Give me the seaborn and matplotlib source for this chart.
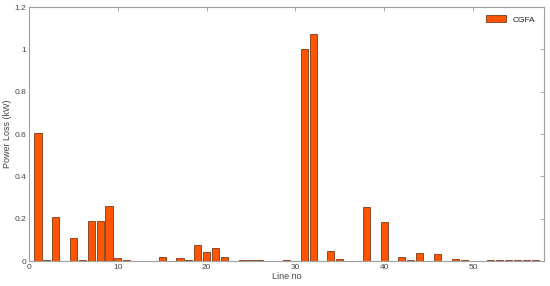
import numpy as np
import pandas as pd
import matplotlib
matplotlib.use("Agg")
import matplotlib.pyplot as plt
import seaborn as sns

# Power loss per line (kW), CGFA
line_no = list(range(1, 58))
power_loss = [0.607, 0.005, 0.208, 0.0, 0.109, 0.004, 0.188, 0.187, 0.260, 0.015,
              0.005, 0.0, 0.002, 0.002, 0.018, 0.0, 0.016, 0.004, 0.077, 0.041,
              0.060, 0.017, 0.002, 0.004, 0.004, 0.005, 0.002, 0.0, 0.005, 0.0,
              1.000, 1.072, 0.0, 0.047, 0.008, 0.0, 0.002, 0.254, 0.0, 0.184,
              0.0, 0.020, 0.005, 0.038, 0.0, 0.033, 0.0, 0.009, 0.004, 0.0,
              0.0, 0.006, 0.004, 0.004, 0.004, 0.005, 0.004]

df = pd.DataFrame({"Line no": line_no, "Power Loss (kW)": power_loss})

sns.set_style("white")
plt.rcParams['font.family'] = ['Liberation Sans', 'DejaVu Sans']

fig = plt.figure(figsize=(5.5, 2.86), dpi=100)
ax = fig.add_axes([0.053, 0.0874, 0.936, 0.888])

sns.barplot(data=df, x="Line no", y="Power Loss (kW)", native_scale=True,
            width=0.8, color="#ff5500", saturation=1, edgecolor="#7a3a1a",
            linewidth=0.6, label="CGFA", ax=ax)

ax.set_xlim(0, 58)
ax.set_ylim(0, 1.2)
ax.set_xticks([0, 10, 20, 30, 40, 50])
ax.set_yticks([0, 0.2, 0.4, 0.6, 0.8, 1.0, 1.2])
ax.set_yticklabels(["0", "0.2", "0.4", "0.6", "0.8", "1", "1.2"])
ax.set_xlabel("Line no", fontsize=6.5, color="#444444", labelpad=1)
ax.set_ylabel("Power Loss (kW)", fontsize=6.5, color="#444444", labelpad=2)
ax.tick_params(axis="both", direction="in", length=3, width=0.6, labelsize=6,
               colors="#999999", labelcolor="#444444", top=True, right=True, pad=2)
for s in ax.spines.values():
    s.set_color("#a0a0a0")
    s.set_linewidth(0.8)

leg = ax.legend(loc="upper right", fontsize=6, frameon=False, handlelength=2.4,
                handleheight=0.9, borderaxespad=0.6)

fig.savefig("out.png", dpi=100)
